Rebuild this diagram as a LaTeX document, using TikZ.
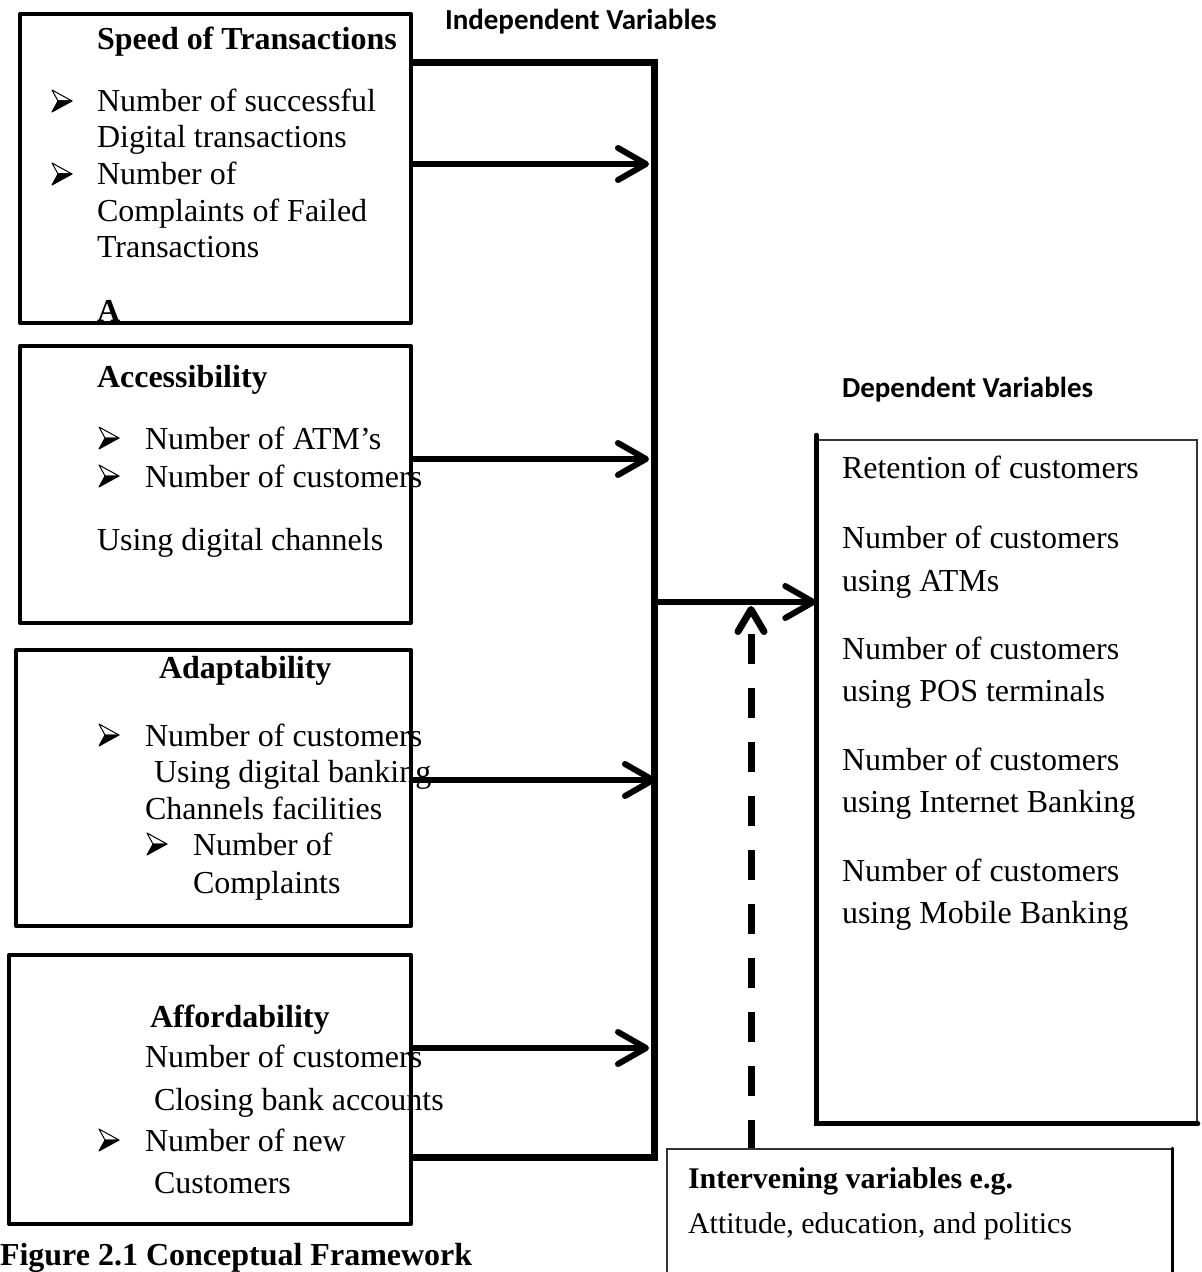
\documentclass[tikz,border=0pt]{standalone}
\usepackage{fontspec}
\setmainfont{Liberation Serif}
\newfontfamily\calibrifont{Carlito}
\usetikzlibrary{arrows.meta,fit}
\tikzset{
  box/.style={draw, line width=2pt, inner sep=0pt, line join=round},
  thinbox/.style={draw=black!80, line width=0.75pt, inner sep=0pt},
  txt/.style={anchor=base west, inner sep=0pt, outer sep=0pt, font=\fontsize{16}{19}\selectfont},
  hd/.style={txt, font=\fontsize{16}{19}\selectfont\bfseries},
  smalltxt/.style={txt, font=\fontsize{15}{18}\selectfont},
  smallhd/.style={txt, font=\fontsize{15}{18}\selectfont\bfseries},
  sanshd/.style={txt, font=\calibrifont\fontsize{14.5}{17}\selectfont\bfseries},
  arrowbullet/.pic={
    \filldraw[fill=white, draw=black, line width=0.5pt, line join=round] (0,-22) -- (20,-11) -- (6,-11) -- cycle;
    \filldraw[fill=black, draw=black, line width=0.5pt, line join=round] (0,0) -- (20,-11) -- (6,-11) -- cycle;
  },
  busline/.style={line width=3.5pt},
  arr/.style={line width=3pt, -{Straight Barb[length=14pt, width=16pt, round]}},
  dasharr/.style={line width=3.5pt, dash pattern=on 15pt off 12pt, dash phase=1pt,
    -{Straight Barb[length=11pt, width=13pt, round]}}
}
\begin{document}
\begin{tikzpicture}[x=0.5pt,y=-0.5pt]
\clip (0,0) rectangle (1201,1272);
\fill[white] (0,0) rectangle (1201,1272);

% independent variable boxes
\node[box, fit={(20,14) (411,323)}] (b1) {};
\node[box, fit={(20,346) (411,623)}] (b2) {};
\node[box, fit={(16,650) (411,926)}] (b3) {};
\node[box, fit={(9,955) (411,1224)}] (b4) {};

% dependent variables box
\node[thinbox, fit={(817,440) (1197,1123)}] (dep) {};
\draw[line width=2.5pt, line cap=round] ([yshift=2pt]dep.north west) -- (dep.south west) -- (dep.south east);

% intervening variables box
\node[thinbox, fit={(667,1149) (1172,1330)}] (int) {};
\draw[line width=1.6pt, line cap=round] (int.north east) -- (int.south east);

% bus
\coordinate (busTop) at (654,63);
\coordinate (busBot) at (654,1157);
\draw[busline] (b1.east |- busTop) -- (busTop) -- (busBot) -- (b4.east |- busBot);

% arrows into bus
\coordinate (in1) at (649,164);
\coordinate (in2) at (649,459);
\coordinate (in3) at (656,780);
\coordinate (in4) at (649,1048);
\draw[arr] (b1.east |- in1) -- (in1);
\draw[arr] (b2.east |- in2) -- (in2);
\draw[arr] (b3.east |- in3) -- (in3);
\draw[arr] (b4.east |- in4) -- (in4);

% arrow to dependent variables
\coordinate (mid) at (654,602);
\draw[arr] (mid) -- (mid -| dep.west);

% dashed arrow from intervening variables
\coordinate (dtip) at (751,606);
\draw[dasharr] (int.north -| dtip) -- (dtip);

% headings
\node[sanshd] (indep) at (445,30) {Independent Variables};
\node[sanshd] (depl) at (842,398) {Dependent Variables};

% box 1
\node[hd] (s0) at (97,50) {Speed of Transactions};
\pic at (52,112) {arrowbullet};
\node[txt] (s1) at (97,112) {Number of successful};
\node[txt] (s2) at (97,148) {Digital transactions};
\pic at (52,185) {arrowbullet};
\node[txt] (s3) at (97,185) {Number of};
\node[txt] (s4) at (97,222) {Complaints of Failed};
\node[txt] (s5) at (97,258) {Transactions};
\node[hd] (s6) at (97,322) {A};

% box 2
\node[hd] (a0) at (97,387) {Accessibility};
\pic at (99,449) {arrowbullet};
\node[txt] (a1) at (145,449) {Number of ATM’s};
\pic at (99,487) {arrowbullet};
\node[txt] (a2) at (145,487) {Number of customers};
\node[txt] (a3) at (97,550) {Using digital channels};

% box 3
\node[hd] (d0) at (159,678) {Adaptability};
\pic at (99,746) {arrowbullet};
\node[txt] (d1) at (145,746) {Number of customers};
\node[txt] (d2) at (154,782) {Using digital banking};
\node[txt] (d3) at (145,819) {Channels facilities};
\pic at (147,855) {arrowbullet};
\node[txt] (d4) at (193,855) {Number of};
\node[txt] (d5) at (193,893) {Complaints};

% box 4
\node[hd] (f0) at (150,1027) {Affordability};
\node[txt] (f1) at (145,1067) {Number of customers};
\node[txt] (f2) at (154,1110) {Closing bank accounts};
\pic at (99,1151) {arrowbullet};
\node[txt] (f3) at (145,1151) {Number of new};
\node[txt] (f4) at (154,1193) {Customers};

% caption
\node[hd] (cap) at (0,1265) {Figure 2.1 Conceptual Framework};

% dependent variables
\node[txt] (r1) at (842,478) {Retention of customers};
\node[txt] (r2) at (842,548) {Number of customers};
\node[txt] (r3) at (842,591) {using ATMs};
\node[txt] (r4) at (842,659) {Number of customers};
\node[txt] (r5) at (842,701) {using POS terminals};
\node[txt] (r6) at (842,770) {Number of customers};
\node[txt] (r7) at (842,812) {using Internet Banking};
\node[txt] (r8) at (842,881) {Number of customers};
\node[txt] (r9) at (842,923) {using Mobile Banking};

% intervening variables
\node[smallhd] (i1) at (688,1188) {Intervening variables e.g.};
\node[smalltxt] (i2) at (688,1233) {Attitude, education, and politics};
\end{tikzpicture}
\end{document}
